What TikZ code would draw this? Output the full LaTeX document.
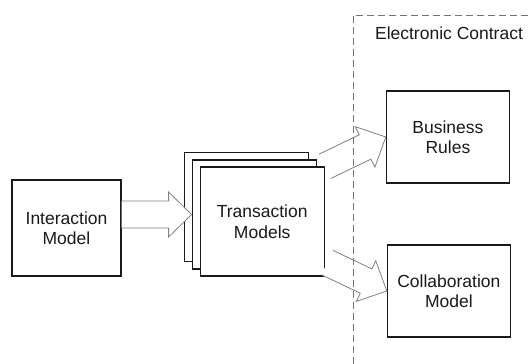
\documentclass[tikz,border=0pt]{standalone}
\usepackage{fontspec}
\setmainfont{Liberation Sans}
\usetikzlibrary{positioning,calc}
\tikzset{%
  box/.style={draw=black!90,line width=1.2pt,fill=white,align=center,
    font=\fontsize{17.5}{20.5}\selectfont,text=black!90,inner sep=0pt},
  stack/.style={box,minimum width=124pt,minimum height=109pt},
  contract/.style={box,minimum width=123pt,minimum height=92pt},
  hollow/.style={draw=black!50,line width=.8pt,fill=white},
  boundary/.style={draw=black!55,line width=.8pt,dash pattern=on 7pt off 4pt}
}
\newcommand{\hollowarrow}[2]{%
  \path ($(#2)!23pt!(#1)$) coordinate (hb);
  \draw[hollow] ($(#1)!13.5pt!90:(#2)$) -- ($(hb)!13.5pt!90:(#2)$)
    -- ($(hb)!22.5pt!90:(#2)$) -- (#2) -- ($(hb)!22.5pt!-90:(#2)$)
    -- ($(hb)!13.5pt!-90:(#2)$) -- ($(#1)!13.5pt!-90:(#2)$);
}

\begin{document}
\begin{tikzpicture}[x=1pt,y=1pt]
  \useasboundingbox (0,0) rectangle (528,364);

  \node [box,minimum width=109pt,minimum height=96pt] (inter) at (66.5,136) {Interaction\\Model};

  % stack of transaction models
  \node [stack,right=62pt of inter,yshift=21pt] (back) {};
  \node [stack,xshift=8pt,yshift=-7.5pt] (mid) at (back) {};
  \node [stack,xshift=8pt,yshift=-7pt] (trans) at (mid) {Transaction\\Models};

  \node [contract,right=61pt of trans,yshift=84.5pt] (rules) {Business\\Rules};
  \node [contract,right=62pt of trans,yshift=-69.5pt] (collab) {Collaboration\\Model};

  \coordinate (intertail) at (inter.east |- mid.west);
  \coordinate (collabtail) at ($(trans.south east)+(2.5,14)$);
  \hollowarrow{intertail}{mid.west}
  \hollowarrow{trans.north east}{rules.west}
  \hollowarrow{collabtail}{collab.west}

  % electronic contract
  \coordinate (ec) at (353,349);
  \draw [boundary] (528,349) -- (ec) -- (ec |- 0,0);
  \node [font=\fontsize{17.5}{20.5}\selectfont,text=black!90] (eclabel) at (449,331) {Electronic Contract};
\end{tikzpicture}
\end{document}
